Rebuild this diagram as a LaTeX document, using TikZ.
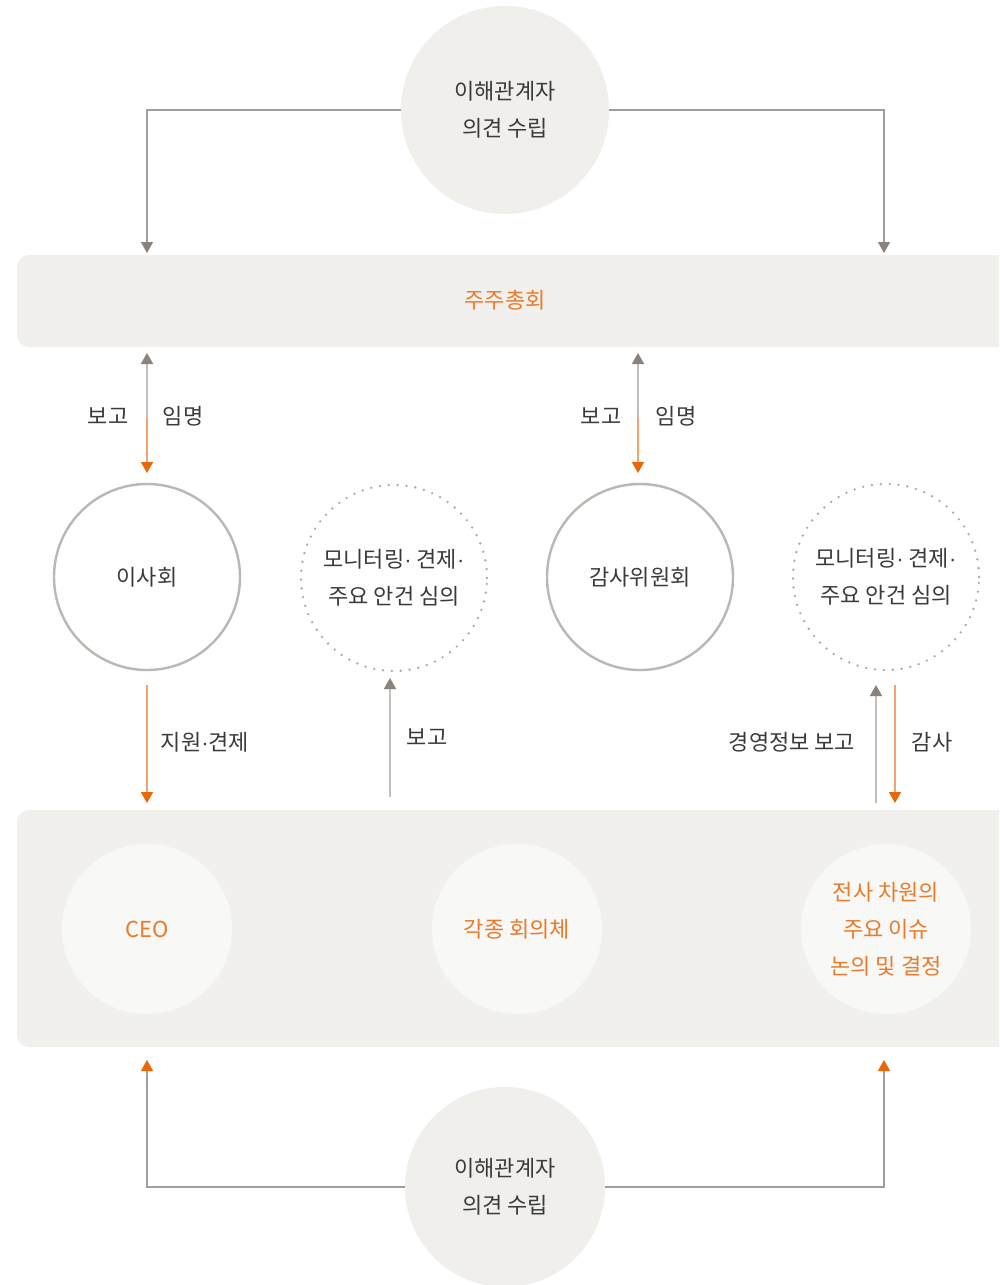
\documentclass[tikz,border=0pt]{standalone}
\usepackage{fontspec}
\setmainfont{Noto Sans CJK KR}
\newfontfamily\latinf{Liberation Sans}
\newcommand{\kdot}{{\latinf\char"00B7}}
\usetikzlibrary{arrows.meta}
\definecolor{bandfill}{HTML}{F1F0ED}
\definecolor{topfill}{HTML}{F0EFEB}
\definecolor{innerfill}{HTML}{F8F8F6}
\definecolor{ringgray}{HTML}{BCB7B2}
\definecolor{dotgray}{HTML}{AFA8A2}
\definecolor{headgray}{HTML}{8A837D}
\definecolor{linegray}{HTML}{C3BFBB}
\definecolor{conngray}{HTML}{A39D98}
\definecolor{headorange}{HTML}{EC6608}
\definecolor{lineorange}{HTML}{F4A270}
\definecolor{textdark}{HTML}{3A3A3A}
\definecolor{textorange}{HTML}{EB7A2A}
\begin{document}
\begin{tikzpicture}[x=1pt,y=-1pt,
  every node/.style={font=\fontsize{22}{37}\selectfont, text=textdark, align=center, inner sep=0pt},
  topc/.style={circle, fill=topfill, minimum size=#1},
  bandbox/.style={rectangle, rounded corners=12pt, fill=bandfill},
  ring/.style={circle, draw=ringgray, line width=2.4pt, minimum size=186pt},
  dotring/.style={circle, draw=dotgray, line width=2.6pt, dash pattern=on 0pt off 8.9pt, line cap=round, minimum size=186pt},
  inner/.style={circle, fill=innerfill, minimum size=170pt, text=textorange},
  gtip/.style={-{Triangle[width=12pt,length=11pt,color=headgray]}},
  otip/.style={-{Triangle[width=12pt,length=11pt,color=headorange]}},
  gline/.style={draw=linegray, line width=1.6pt, gtip},
  oline/.style={draw=lineorange, line width=1.6pt, otip},
  conn/.style={draw=conngray, line width=1.2pt, gtip},
  connO/.style={draw=conngray, line width=1.2pt, otip}
]
\useasboundingbox (0,0) rectangle (999,1285);
\clip (0,0) rectangle (999,1285);
\fill[white] (0,0) rectangle (999,1285);

% bands
\node[bandbox, minimum width=1013pt, minimum height=92pt] (gm) at (523.5,301) {};
\node[text=textorange] (gmlabel) at (505,300) {주주총회};
\node[bandbox, minimum width=1013pt, minimum height=237pt] (mgmt) at (523.5,928.5) {};

% stakeholder circles
\node[topc=208pt] (sh1) at (505,110) {이해관계자\\의견 수립};
\node[topc=200pt] (sh2) at (505,1187) {이해관계자\\의견 수립};

% middle row
\node[ring] (board) at (147,577) {이사회};
\node[dotring] (mon1) at (394,578) {모니터링\kdot{} 견제\kdot\\주요 안건 심의};
\node[ring] (audit) at (640,577) {감사위원회};
\node[dotring] (mon2) at (886,577) {모니터링\kdot{} 견제\kdot\\주요 안건 심의};

% inner circles
\node[inner] (ceo) at (147,929) {CEO};
\node[inner] (meet) at (517,929) {각종 회의체};
\node[inner] (issue) at (886,929) {전사 차원의\\주요 이슈\\논의 및 결정};

% coordinates for free ends
\coordinate (tA) at (147,253);
\coordinate (tB) at (884,253);
\coordinate (tC) at (147,1060);
\coordinate (tD) at (884,1060);
\coordinate (m1) at (147,418);
\coordinate (u1) at (147,353);
\coordinate (d1) at (147,473);
\coordinate (m2) at (638,418);
\coordinate (u2) at (638,353);
\coordinate (d2) at (638,473);
\coordinate (b1s) at (147,685);
\coordinate (b1e) at (147,803);
\coordinate (r1s) at (390,797);
\coordinate (r1e) at (390,678);
\coordinate (r2s) at (876,803);
\coordinate (r2e) at (876,685);
\coordinate (a2s) at (895,685);
\coordinate (a2e) at (895,803);

% connectors from stakeholder circles
\draw[conn] (sh1.west) -| (tA);
\draw[conn] (sh1.east) -| (tB);
\draw[connO] (sh2.west) -| (tC);
\draw[connO] (sh2.east) -| (tD);

% report / appoint
\draw[gline] (m1) -- (u1);
\draw[oline] (m1) -- (d1);
\draw[gline] (m2) -- (u2);
\draw[oline] (m2) -- (d2);
\node (l1) at (108,416) {보고};
\node (l2) at (183,416) {임명};
\node (l3) at (601,416) {보고};
\node (l4) at (676,416) {임명};

% lower arrows
\draw[oline] (b1s) -- (b1e);
\node (l5) at (205,742) {지원\kdot 견제};
\draw[gline] (r1s) -- (r1e);
\node (l6) at (427,737) {보고};
\draw[gline] (r2s) -- (r2e);
\draw[oline] (a2s) -- (a2e);
\node (l7) at (792,742) {경영정보 보고};
\node (l8) at (932,742) {감사};
\end{tikzpicture}
\end{document}
